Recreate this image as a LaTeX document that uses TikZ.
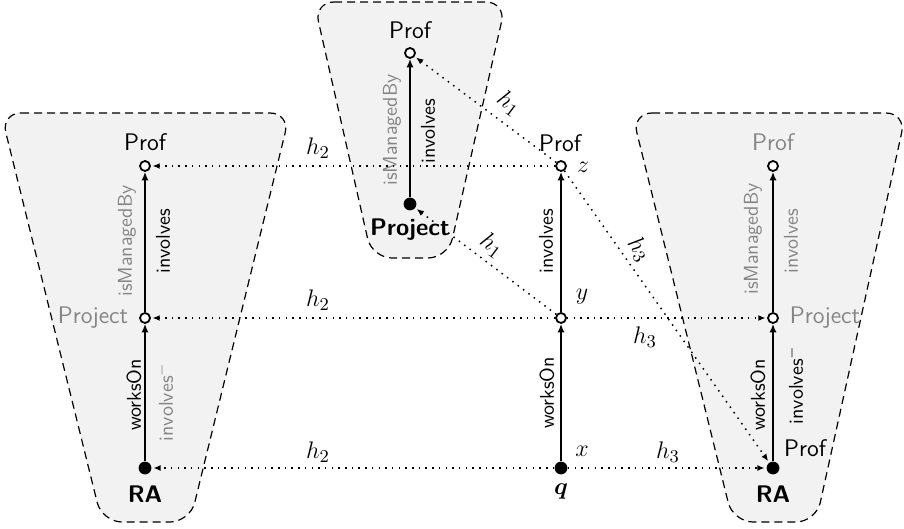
\documentclass[tikz,border=0pt]{standalone}
\usepackage{bm}
\usetikzlibrary{arrows.meta}
\renewcommand{\familydefault}{\sfdefault}
\definecolor{pfill}{HTML}{F2F2F2}
\definecolor{ltxt}{HTML}{858585}
\begin{document}
\begin{tikzpicture}[x=0.5pt,y=-0.5pt,
  panel/.style={draw, dash pattern=on 4pt off 2.5pt, line width=0.6pt, fill=pfill, rounded corners=10pt},
  opn/.style={circle, draw, fill=white, line width=0.9pt, minimum size=5pt, inner sep=0pt},
  ful/.style={circle, fill=black, minimum size=6.4pt, inner sep=0pt},
  edg/.style={-{Latex[length=4.2pt,width=3.6pt]}, line width=0.85pt},
  hom/.style={-{Latex[length=3.6pt,width=3pt]}, line width=0.75pt, dash pattern=on 0.75pt off 2.6pt, shorten >=0.8pt},
  lab/.style={font=\fontsize{12}{14}\selectfont, inner sep=0pt},
  elab/.style={font=\fontsize{10}{12}\selectfont, inner sep=0pt, rotate=90},
  mlab/.style={font=\fontsize{12.5}{15}\selectfont, inner sep=0pt},
]
\useasboundingbox (0,0) rectangle (904,529);
% panels
\draw[panel] (1,113) -- (290,113) -- (190,522) -- (102,522) -- cycle;
\draw[panel] (314,2) -- (506,2) -- (448,258) -- (372,258) -- cycle;
\draw[panel] (632,113) -- (906,113) -- (816,522) -- (733,522) -- cycle;
% points
\node[opn] (lProf) at (145,166) {};
\node[opn] (lProj) at (145,318) {};
\node[ful] (lRA) at (145,468) {};
\node[opn] (mProf) at (410,53) {};
\node[ful] (mProj) at (410,204) {};
\node[opn] (z) at (561,166) {};
\node[opn] (y) at (561,318) {};
\node[ful] (x) at (561,468) {};
\node[opn] (rProf) at (773,166) {};
\node[opn] (rProj) at (773,318) {};
\node[ful] (rRA) at (773,468) {};
% point texts
\node[lab] (tlProf) at (145,142) {Prof};
\node[lab, text=ltxt] (tlProj) at (93,318) {Project};
\node[lab] (tlRA) at (145,494) {\bfseries RA};
\node[lab] (tmProf) at (410,30) {Prof};
\node[lab] (tmProj) at (410,230) {\bfseries Project};
\node[lab] (tzProf) at (560,143) {Prof};
\node[mlab] (tz) at (583,167) {$z$};
\node[mlab] (ty) at (582,297) {$y$};
\node[mlab] (tx) at (582,451) {$x$};
\node[mlab] (tq) at (561,491) {$\bm{q}$};
\node[lab, text=ltxt] (trProf) at (773,142) {Prof};
\node[lab, text=ltxt] (trProj) at (825,318) {Project};
\node[lab] (trProfB) at (805,448) {Prof};
\node[lab] (trRA) at (773,494) {\bfseries RA};
% solid edges
\draw[edg] (lRA) -- (lProj);
\draw[edg] (lProj) -- (lProf);
\draw[edg] (mProj) -- (mProf);
\draw[edg] (x) -- (y);
\draw[edg] (y) -- (z);
\draw[edg] (rRA) -- (rProj);
\draw[edg] (rProj) -- (rProf);
% edge texts
\node[elab, text=ltxt] (e1) at (127,241) {isManagedBy};
\node[elab] (e2) at (163,241) {involves};
\node[elab] (e3) at (134,395) {worksOn};
\node[elab, text=ltxt] (e4) at (165,402) {involves$^{-}$};
\node[elab, text=ltxt] (e5) at (392,130) {isManagedBy};
\node[elab] (e6) at (428,131) {involves};
\node[elab] (e7) at (546,241) {involves};
\node[elab] (e8) at (547,393) {worksOn};
\node[elab, text=ltxt] (e9) at (753,239) {isManagedBy};
\node[elab, text=ltxt] (e10) at (791,241) {involves};
\node[elab] (e11) at (758,395) {worksOn};
\node[elab] (e12) at (795,385) {involves$^{-}$};
% homomorphisms
\draw[hom] (z) -- (lProf);
\draw[hom] (y) -- (lProj);
\draw[hom] (x) -- (lRA);
\draw[hom] (z) -- (mProf);
\draw[hom] (y) -- (mProj);
\draw[hom] (y) -- (rProj);
\draw[hom] (x) -- (rRA);
\draw[hom] (z) -- (rRA);
\node[mlab] (h2a) at (318,148) {$h_2$};
\node[mlab] (h2b) at (318,300) {$h_2$};
\node[mlab] (h2c) at (318,452) {$h_2$};
\node[mlab, rotate=-37] (h1a) at (509,103) {$h_1$};
\node[mlab, rotate=-37] (h1b) at (492,245) {$h_1$};
\node[mlab] (h3a) at (645,337) {$h_3$};
\node[mlab] (h3b) at (668,452) {$h_3$};
\node[mlab, rotate=-55] (h3c) at (639,249) {$h_3$};
\end{tikzpicture}
\end{document}
